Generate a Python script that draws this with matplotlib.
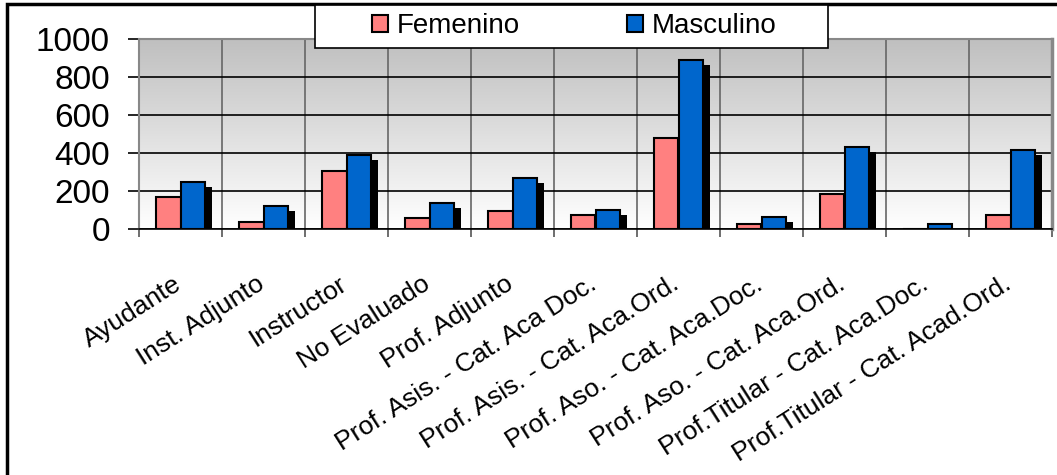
import numpy as np
import matplotlib
matplotlib.use("Agg")
import matplotlib.pyplot as plt
from matplotlib.patches import Rectangle, Patch
from matplotlib.transforms import ScaledTranslation

categories = ["Ayudante", "Inst. Adjunto", "Instructor", "No Evaluado", "Prof. Adjunto",
              "Prof. Asis. - Cat. Aca Doc.", "Prof. Asis. - Cat. Aca.Ord.",
              "Prof. Aso. - Cat. Aca.Doc.", "Prof. Aso. - Cat. Aca.Ord.",
              "Prof.Titular - Cat. Aca.Doc.", "Prof.Titular - Cat. Acad.Ord."]
femenino = [169, 37, 305, 60, 97, 72, 477, 25, 183, 0, 72]
masculino = [245, 121, 389, 137, 269, 99, 891, 62, 430, 26, 415]
yticks = [0, 200, 400, 600, 800, 1000]

plt.rcParams['font.family'] = ['Liberation Sans', 'DejaVu Sans']

W, H = 1057, 475
fig = plt.figure(figsize=(W / 100, H / 100), dpi=100)

def fx(px):
    return px / W

def fy(py):
    return 1 - py / H

ax = fig.add_axes([fx(139), fy(229), fx(1052) - fx(139), fy(39) - fy(229)])

n = len(categories)
x = np.arange(n)
bw = 0.30
shx = 7 / 83.0
shy = 1000 * 5 / 190.0

# gradient background
grad = np.linspace(0, 1, 256).reshape(-1, 1)
cmap = matplotlib.colors.LinearSegmentedColormap.from_list("g", ["#ffffff", "#bfbfbf"])
ax.imshow(grad, extent=[-0.5, n - 0.5, 0, 1000], origin="lower", aspect="auto",
          cmap=cmap, zorder=0)

fem_pos = x - bw / 2
mas_pos = x + bw / 2

# shadows
ax.bar(fem_pos + shx, np.clip(np.array(femenino) - shy, 0, None), bw, color="black", zorder=2)
ax.bar(mas_pos + shx, np.clip(np.array(masculino) - shy, 0, None), bw, color="black", zorder=2)
# bars
ax.bar(fem_pos, femenino, bw, color="#FF8080", edgecolor="black", linewidth=1.5, zorder=3)
ax.bar(mas_pos, masculino, bw, color="#0066CC", edgecolor="black", linewidth=1.5, zorder=3)

ax.set_xlim(-0.5, n - 0.5)
ax.set_ylim(0, 1000)
ax.set_yticks(yticks)
ax.set_yticklabels([str(v) for v in yticks], fontsize=24)
ax.tick_params(axis="y", length=8, width=1.2, pad=13, color="black")

ax.set_xticks(x)
ax.set_xticklabels(categories, rotation=32.5, ha="right", va="top",
                   rotation_mode="anchor", fontsize=19)
ax.tick_params(axis="x", which="major", length=0, pad=31)
off = ScaledTranslation(-8 / 100, 0, fig.dpi_scale_trans)
for lbl in ax.get_xticklabels():
    lbl.set_transform(lbl.get_transform() + off)
ax.set_xticks(np.arange(n + 1) - 0.5, minor=True)
ax.tick_params(axis="x", which="minor", length=6, width=1.2, color="#555555")

ax.yaxis.grid(True, color="black", linewidth=1.2, zorder=1)
ax.xaxis.grid(True, which="minor", color="#666666", linewidth=1.2, zorder=1)
ax.set_axisbelow(True)

for s in ["top", "left"]:
    ax.spines[s].set_color("#888888")
    ax.spines[s].set_linewidth(1.5)
ax.spines["right"].set_color("#888888")
ax.spines["right"].set_linewidth(2.5)
ax.spines["bottom"].set_color("black")
ax.spines["bottom"].set_linewidth(1.2)
ax.spines["bottom"].set_zorder(4)

# outer border
fig.patches.append(Rectangle((fx(7), fy(600)), fx(1200), fy(4) - fy(600),
                             transform=fig.transFigure, fill=False,
                             edgecolor="black", linewidth=2.5, zorder=0))

# legend box
fig.patches.append(Rectangle((fx(315), fy(48)), fx(828) - fx(315), fy(5) - fy(48),
                             transform=fig.transFigure, facecolor="white",
                             edgecolor="black", linewidth=1.2, zorder=5))
handles = [Patch(facecolor="#FF8080", edgecolor="black", linewidth=1.5),
           Patch(facecolor="#0066CC", edgecolor="black", linewidth=1.5)]
leg = fig.legend(handles, ["Femenino", "Masculino"], loc="center",
                 bbox_to_anchor=(fx(574), fy(26)), ncol=2, frameon=False,
                 fontsize=20, handlelength=0.58, handleheight=0.58,
                 handletextpad=0.32, columnspacing=3.85, borderpad=0)
leg.set_zorder(6)

fig.savefig("out.png", dpi=100)
